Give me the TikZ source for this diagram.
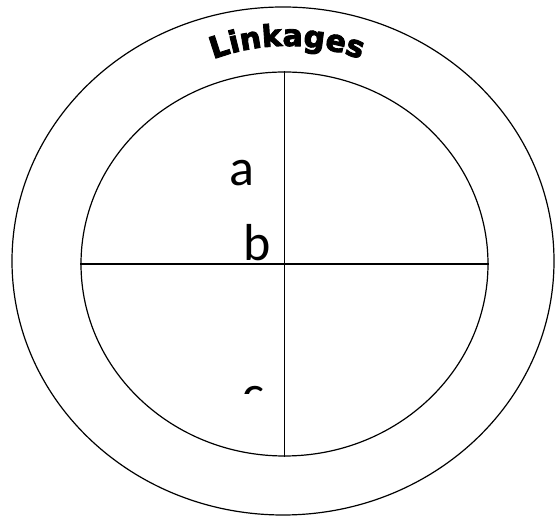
\documentclass[tikz,border=0pt]{standalone}
\usepackage{fontspec}
\usetikzlibrary{shapes.geometric,decorations.text}
\newfontfamily\labelfont{Carlito}
\newfontfamily\archfont{DejaVu Sans Bold}[FakeBold=3]
\begin{document}
\begin{tikzpicture}[x=1pt, y=1pt, line width=1.2pt,
  ring/.style={draw, ellipse, inner sep=0pt},
  letter/.style={font=\labelfont\fontsize{52}{60}\selectfont, anchor=base, inner sep=0pt}]
\useasboundingbox (0,0) rectangle (555,516);
\node[ring, minimum width=542pt, minimum height=508pt] (outer) at (283,255) {};
\node[ring, minimum width=407pt, minimum height=384pt] (inner) at (284.5,252) {};
\draw (inner.north) -- (inner.south);
\draw (inner.west) -- (inner.east);

\node[letter] (a) at (241.5,330) {a};
\node[letter] (b) at (257.5,255) {b};
\begin{scope}
\clip (225,122) rectangle (280,135);
\node[letter] (c) at (253.5,104) {c};
\end{scope}

\path[decorate, decoration={text along path, text align=center,
  text={|\archfont\fontsize{30}{32}\selectfont|Linkages}}]
  (287,259) ++(115:211) arc[start angle=115, end angle=65, radius=211];
\end{tikzpicture}
\end{document}
